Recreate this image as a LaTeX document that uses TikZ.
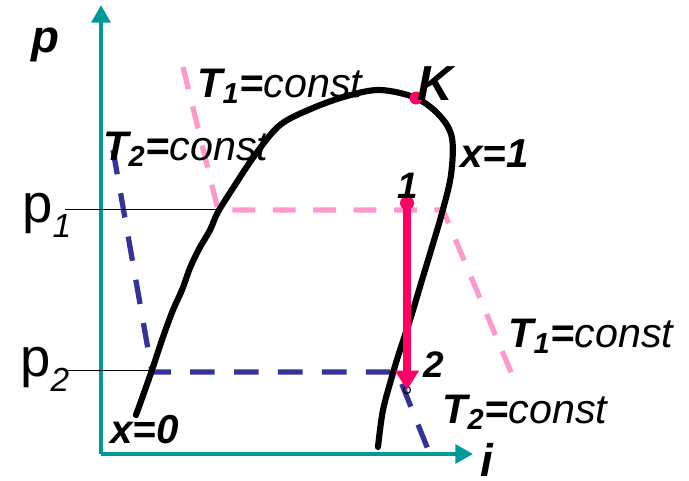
\documentclass[tikz,border=0pt]{standalone}
\usepackage{fontspec}
\setmainfont{Liberation Sans}
\usetikzlibrary{arrows.meta}

\definecolor{axisteal}{RGB}{0,153,153}
\definecolor{isopink}{RGB}{255,153,204}
\definecolor{isoblue}{RGB}{51,51,153}
\definecolor{procred}{RGB}{255,0,102}

\begin{document}
\begin{tikzpicture}[x=0.02cm,y=-0.02cm,
    axis/.style={axisteal,line width=2.4pt,-{Triangle[length=10pt,width=10.5pt]}},
    isoTone/.style={isopink,line width=3pt,dash pattern=on 13pt off 10pt},
    isoTtwo/.style={isoblue,line width=3pt,dash pattern=on 14pt off 11pt},
    lbl/.style={font=\fontsize{23.5}{27}\selectfont,inner sep=0pt,anchor=base west},
    ptlbl/.style={font=\fontsize{21}{25}\selectfont\bfseries\itshape,inner sep=0pt,anchor=base west},
    plbl/.style={font=\fontsize{31}{35}\selectfont,inner sep=0pt,anchor=base west}]
        \useasboundingbox (0,0) rectangle (689,480);
        % Axes
        \coordinate (O) at (101,454);
        \coordinate (ptop) at (101,5);
        \coordinate (iend) at (473,454);
        \draw[axis] (O) -- (ptop);
        \draw[axis] (O) -- (iend);
        \node[font=\fontsize{26}{30}\selectfont\bfseries\itshape] (plabel) at (45,45) {p};
        \node[font=\fontsize{26}{30}\selectfont\bfseries\itshape] (ilabel) at (487,460) {i};
        % Isotherms
        \draw[isoTone] (183,67) -- (218,210) -- (443,210) -- (513,377);
        \draw[isoTtwo] (113,150) -- (152,372) -- (397,372) -- (433,462);
        % Pressure levels
        \draw[thin] (65,209) -- (218,209);
        \draw[thin] (68,370) -- (151,370);
        \node[plbl] (pone) at (22,222) {p\raisebox{-9pt}{\fontsize{19}{22}\selectfont\itshape 1}};
        \node[plbl] (ptwo) at (20,376) {p\raisebox{-9pt}{\fontsize{19}{22}\selectfont\itshape 2}};
        % Saturation curve
        \draw[line width=3.5pt,line cap=round] plot[smooth,tension=0.55] coordinates {
            (136,415) (145,390) (153,367) (163,337) (173,310) (182,290)
            (190,268) (199,249) (210,230) (218,212) (235,185) (255,155)
            (280,125) (313,108) (347,96) (380,90) (416,98) (440,116)
            (452,138) (451,175) (442,213) (432,247) (422,280) (410,320)
            (400,350) (393,373) (383,410) (378,447)};
        % Process 1-2
        \coordinate (pt1) at (407,203);
        \coordinate (pt2) at (407,390);
        \draw[line width=0.6pt] (407,213) circle (3.5);
        \draw[line width=0.6pt] (pt2) circle (3.5);
        \draw[procred,line width=4.2pt,-{Triangle[length=11pt,width=13pt]}] (pt1) -- (pt2);
        \fill[procred] (pt1) circle (7);
        \fill[procred] (416,98) circle (6.5);
        % Labels
        \node[lbl] (Tonetop) at (197,97) {\bfseries\itshape T\textsubscript{1}=\mdseries const};
        \node[lbl] (Ttwoleft) at (103,160) {\bfseries\itshape T\textsubscript{2}=\mdseries const};
        \node[lbl] (Toneright) at (508,347) {\bfseries\itshape T\textsubscript{1}=\mdseries const};
        \node[lbl] (Ttwobottom) at (442,423) {\bfseries\itshape T\textsubscript{2}=\mdseries const};
        \node[lbl,font=\fontsize{23}{27}\selectfont\bfseries\itshape] (xone) at (460,167) {x=1};
        \node[lbl,font=\fontsize{23}{27}\selectfont\bfseries\itshape] (xzero) at (110,443) {x=0};
        \node[ptlbl,font=\fontsize{28}{32}\selectfont\bfseries\itshape] (K) at (417,100) {K};
        \node[ptlbl] (one) at (397,198) {1};
        \node[ptlbl] (two) at (423,377) {2};
\end{tikzpicture}
\end{document}
